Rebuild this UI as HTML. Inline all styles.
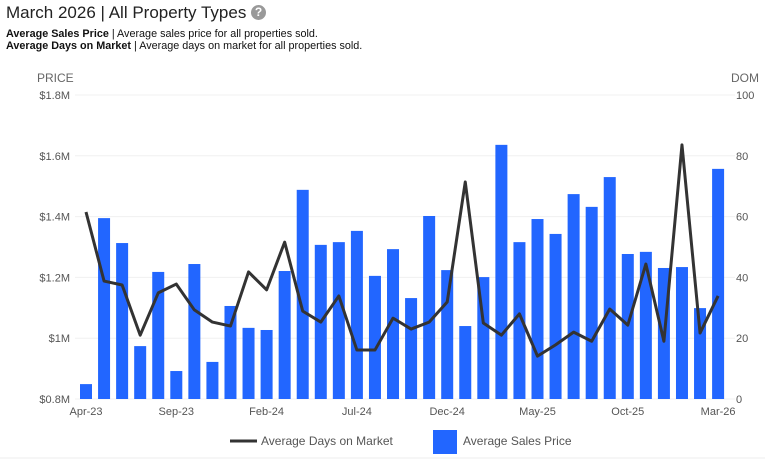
<!DOCTYPE html>
<html><head><meta charset="utf-8"><style>
body{margin:0;background:#fff;font-family:"Liberation Sans",Arial,sans-serif;}
#wrap{position:relative;width:765px;height:459px;overflow:hidden;}
.t{position:absolute;white-space:nowrap;}
</style></head><body>
<div id="wrap">
<div class="t" style="left:6px;top:3px;font-size:17px;color:#222">March 2026 | All Property Types <span style="display:inline-block;width:15px;height:15px;border-radius:50%;background:#999;color:#fff;font-size:12px;font-weight:bold;text-align:center;line-height:15px;vertical-align:2px">?</span></div>
<div class="t" style="left:6px;top:28px;font-size:10.8px;color:#111;line-height:12px"><b>Average Sales Price</b> | Average sales price for all properties sold.<br><b>Average Days on Market</b> | Average days on market for all properties sold.</div>
<svg id="c" width="765" height="459" style="position:absolute;left:0;top:0"></svg>
</div>
<script>
const categories=["Apr-23","May-23","Jun-23","Jul-23","Aug-23","Sep-23","Oct-23","Nov-23","Dec-23","Jan-24","Feb-24","Mar-24","Apr-24","May-24","Jun-24","Jul-24","Aug-24","Sep-24","Oct-24","Nov-24","Dec-24","Jan-25","Feb-25","Mar-25","Apr-25","May-25","Jun-25","Jul-25","Aug-25","Sep-25","Oct-25","Nov-25","Dec-25","Jan-26","Feb-26","Mar-26"];
const priceValues=[0.849,1.395,1.313,0.974,1.218,0.892,1.244,0.922,1.106,1.034,1.027,1.221,1.488,1.307,1.316,1.353,1.205,1.293,1.132,1.402,1.224,1.040,1.201,1.636,1.316,1.392,1.343,1.474,1.432,1.530,1.277,1.284,1.231,1.234,1.099,1.557];
const domValues=[61.5,38.8,37.5,21,34.9,37.8,29.3,25.3,24,41.8,35.9,51.6,28.9,25.3,33.9,16.1,16.1,26.6,23,25.3,31.9,71.4,25,21,28,14.1,17.8,22,19,29.6,24.3,44.4,19,83.6,21.7,33.9];
const priceTicks=[0.8,1.0,1.2,1.4,1.6,1.8];
const priceTickLabels=["$0.8M","$1M","$1.2M","$1.4M","$1.6M","$1.8M"];
const domTicks=[0,20,40,60,80,100];
const xLabelIdx=[0,5,10,15,20,25,30,35];

const svg=document.getElementById('c');const NS='http://www.w3.org/2000/svg';
function mk(t,a,p){const e=document.createElementNS(NS,t);for(const k in a)e.setAttribute(k,a[k]);(p||svg).appendChild(e);return e;}
const yTop=95,yBot=399,x0=86,step=18.06;
const yP=v=>yBot-(v-0.8)/(1.0)*(yBot-yTop);
const yD=v=>yBot-v/100*(yBot-yTop);
const xC=i=>x0+i*step;

priceTicks.forEach((v,i)=>{
  const g=mk('line',{x1:75,x2:735,y1:yP(v),y2:yP(v),stroke:'#f0f0f0','stroke-width':1});
  
  
  const t=mk('text',{x:70,y:yP(v)+4,'text-anchor':'end','font-size':11,fill:'#555'});t.textContent=priceTickLabels[i];
  
  
});
domTicks.forEach(v=>{
  const t=mk('text',{x:736,y:yD(v)+4,'font-size':11,fill:'#555'});t.textContent=v;
  
  
});
let t=mk('text',{x:37,y:82,'font-size':12,fill:'#666'});t.textContent='PRICE';


t=mk('text',{x:731,y:82,'font-size':12,fill:'#666'});t.textContent='DOM';



priceValues.forEach((v,i)=>{
  const b=mk('rect',{x:xC(i)-6,y:yP(v),width:12,height:yBot-yP(v),fill:'#2266ff'});
  
  
});
const pl=mk('polyline',{points:domValues.map((v,i)=>xC(i)+','+yD(v)).join(' '),fill:'none',stroke:'#333',"stroke-width":3,"stroke-linejoin":"round"});



xLabelIdx.forEach(i=>{
  const l=mk('text',{x:xC(i),y:415,'text-anchor':'middle','font-size':11,fill:'#555'});l.textContent=categories[i];
  
  
});

const lg=mk('g',{});


const l1=mk('line',{x1:230,x2:257,y1:441,y2:441,stroke:'#333','stroke-width':3},lg);


t=mk('text',{x:261,y:445,'font-size':12,fill:'#555'},lg);t.textContent='Average Days on Market';


const r1=mk('rect',{x:433,y:430,width:24,height:24,fill:'#2266ff'},lg);


t=mk('text',{x:463,y:445,'font-size':12,fill:'#555'},lg);t.textContent='Average Sales Price';


mk('line',{x1:0,x2:765,y1:458,y2:458,stroke:'#eee'});
</script>
</body></html>
